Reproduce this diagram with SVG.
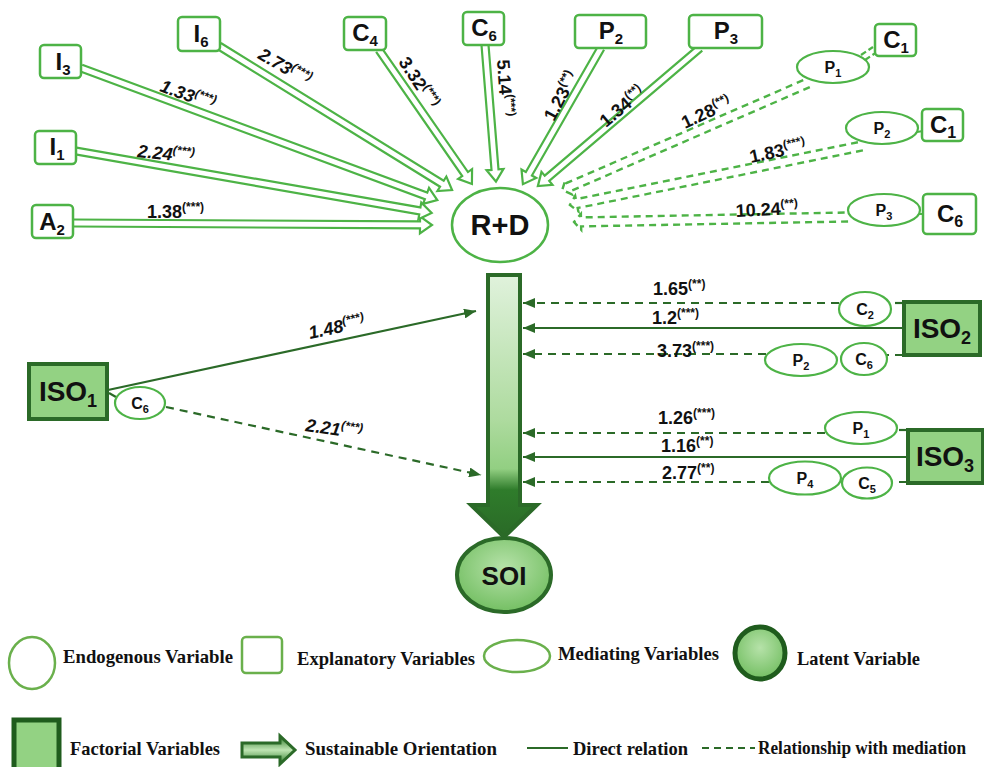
<svg xmlns="http://www.w3.org/2000/svg" width="984" height="767" viewBox="0 0 984 767">
<defs>
<style>
.box{fill:#fff;stroke:#4db346;stroke-width:2.5}
.med{fill:#fff;stroke:#4db346;stroke-width:2.2}
.hol{fill:#fff;stroke:#4db346;stroke-width:2.2;stroke-linejoin:miter}
.hold{fill:#fff;stroke:#4db346;stroke-width:2.4;stroke-dasharray:7 5}
.lbl{font-family:"Liberation Sans",Arial,sans-serif;font-weight:bold;fill:#111}
.bt{font-family:"Liberation Sans",Arial,sans-serif;font-weight:bold;fill:#111;font-size:24px;text-anchor:middle}
.mt{font-family:"Liberation Sans",Arial,sans-serif;font-weight:bold;fill:#111;font-size:16px;text-anchor:middle}
.num{font-size:18px}
.sup{font-size:12px}
.it{font-style:italic}
.iso{fill:#93d283;stroke:#2b6a28;stroke-width:4}
.dir{stroke:#2b6a28;stroke-width:2.2;fill:none}
.dash{stroke:#2b6a28;stroke-width:2.2;fill:none;stroke-dasharray:8 6}
.leg{font-family:"Liberation Serif","Times New Roman",serif;font-weight:bold;fill:#111;font-size:19px}
.legs{fill:#fff;stroke:#6ab04c;stroke-width:2.5}
</style>
<marker id="ah" viewBox="0 0 12 10" refX="12" refY="5" markerWidth="12" markerHeight="10" markerUnits="userSpaceOnUse" orient="auto">
<path d="M0,0 L12,5 L0,10 Z" fill="#2b6a28"/>
</marker>
<linearGradient id="bigGrad" x1="0" y1="0" x2="0" y2="1">
<stop offset="0" stop-color="#e0f2dc"/>
<stop offset="0.55" stop-color="#aedb9f"/>
<stop offset="0.74" stop-color="#92cf82"/>
<stop offset="0.82" stop-color="#2f7c2b"/>
<stop offset="1" stop-color="#2a6a27"/>
</linearGradient>
<radialGradient id="soiGrad" cx="0.5" cy="0.4" r="0.6">
<stop offset="0" stop-color="#b6e2a9"/>
<stop offset="1" stop-color="#74bf63"/>
</radialGradient>
<linearGradient id="legArr" x1="0" y1="0" x2="0" y2="1">
<stop offset="0" stop-color="#2f7c2b"/>
<stop offset="0.5" stop-color="#bfe5b3"/>
<stop offset="1" stop-color="#2f7c2b"/>
</linearGradient>
</defs>
<rect width="984" height="767" fill="#fff"/>

<g id="connectors">
<path class="hol" transform="translate(73,223) rotate(0.32)" d="M0,-3.5 H347 V-8.5 L359,0 L347,8.5 V3.5 H0"/>
<path class="hol" transform="translate(76,151) rotate(9.88)" d="M0,-3.5 H349 V-8.5 L361,0 L349,8.5 V3.5 H0"/>
<path class="hol" transform="translate(81,68) rotate(20.34)" d="M0,-3.5 H368 V-8.5 L380,0 L368,8.5 V3.5 H0"/>
<path class="hol" transform="translate(219,46) rotate(31.72)" d="M0,-3.5 H262 V-8.5 L274,0 L262,8.5 V3.5 H0"/>
<path class="hol" transform="translate(379,50) rotate(55.24)" d="M0,-3.5 H151 V-8.5 L163,0 L151,8.5 V3.5 H0"/>
<path class="hol" transform="translate(485,45) rotate(85.41)" d="M0,-3.5 H125 V-8.5 L137,0 L125,8.5 V3.5 H0"/>
<path class="hol" transform="translate(601,48) rotate(119.83)" d="M0,-3.5 H145 V-8.5 L157,0 L145,8.5 V3.5 H0"/>
<path class="hol" transform="translate(700,48) rotate(139.58)" d="M0,-3.5 H201 V-8.5 L213,0 L201,8.5 V3.5 H0"/>
<path class="hold" transform="translate(808,83) rotate(156.5)" d="M0,-4.5 H261 V-8 L268,0 L261,8 V4.5 H0"/>
<path class="hold" transform="translate(862,146) rotate(168.58)" d="M0,-4.5 H291 V-8 L298,0 L291,8 V4.5 H0"/>
<path class="hold" transform="translate(848,217) rotate(178.95)" d="M0,-4.5 H267 V-8 L274,0 L267,8 V4.5 H0"/>
<line x1="861" y1="55" x2="873" y2="47" stroke="#4db346" stroke-width="2.2" stroke-dasharray="6 3"/>
<line x1="865" y1="60" x2="877" y2="52" stroke="#4db346" stroke-width="2.2" stroke-dasharray="6 3"/>
<line x1="917" y1="132" x2="923" y2="131" stroke="#4db346" stroke-width="2"/>
<line x1="919" y1="214" x2="924" y2="214" stroke="#4db346" stroke-width="2"/>

<line class="dir" x1="108" y1="390" x2="476" y2="311" marker-end="url(#ah)"/>
<line class="dash" x1="166" y1="407" x2="481" y2="475" marker-end="url(#ah)"/>
<line class="dash" x1="109" y1="393" x2="116" y2="397" stroke-dasharray="4 2"/>

<line class="dash" x1="839" y1="303" x2="523" y2="303" marker-end="url(#ah)"/>
<line class="dash" x1="903" y1="303" x2="891" y2="303" stroke-dasharray="6 4"/>
<line class="dir" x1="904" y1="328" x2="523" y2="328" marker-end="url(#ah)"/>
<line class="dash" x1="766" y1="354" x2="523" y2="354" marker-end="url(#ah)"/>
<line class="dash" x1="903" y1="355" x2="887" y2="355" stroke-dasharray="6 4"/>

<line class="dash" x1="825" y1="433" x2="523" y2="433" marker-end="url(#ah)"/>
<line class="dash" x1="907" y1="430" x2="897" y2="430" stroke-dasharray="5 3"/>
<line class="dir" x1="908" y1="457" x2="523" y2="457" marker-end="url(#ah)"/>
<line class="dash" x1="769" y1="482" x2="523" y2="482" marker-end="url(#ah)"/>
<line class="dash" x1="907" y1="482" x2="892" y2="482" stroke-dasharray="6 4"/>
</g>

<g id="labels">
<text class="lbl num" x="147" y="218">1.38<tspan class="sup" dy="-7">(***)</tspan></text>
<text class="lbl num it" transform="translate(137,157) rotate(6)">2.24<tspan class="sup" dy="-7">(***)</tspan></text>
<text class="lbl num it" transform="translate(159,91) rotate(20)">1.33<tspan class="sup" dy="-7">(***)</tspan></text>
<text class="lbl num it" transform="translate(257,58) rotate(30)">2.73<tspan class="sup" dy="-7">(***)</tspan></text>
<text class="lbl num" transform="translate(398,62) rotate(57)">3.32<tspan class="sup" dy="-7">(***)</tspan></text>
<text class="lbl num" transform="translate(497,60) rotate(86)">5.14<tspan class="sup" dy="-7">(***)</tspan></text>
<text class="lbl num" transform="translate(554,122) rotate(-62)">1.23<tspan class="sup" dy="-7">(**)</tspan></text>
<text class="lbl num" transform="translate(606,128) rotate(-40)">1.34<tspan class="sup" dy="-7">(**)</tspan></text>
<text class="lbl num" transform="translate(685,129) rotate(-25)">1.28<tspan class="sup" dy="-7">(**)</tspan></text>
<text class="lbl num" transform="translate(751,163) rotate(-12)">1.83<tspan class="sup" dy="-7">(***)</tspan></text>
<text class="lbl num" transform="translate(736,217) rotate(-3)">10.24<tspan class="sup" dy="-7">(**)</tspan></text>
<text class="lbl num it" transform="translate(310,339) rotate(-12)">1.48<tspan class="sup" dy="-7">(***)</tspan></text>
<text class="lbl num it" transform="translate(305,431) rotate(8)">2.21<tspan class="sup" dy="-7">(***)</tspan></text>
<text class="lbl num" x="653" y="295">1.65<tspan class="sup" dy="-7">(**)</tspan></text>
<text class="lbl num" x="652" y="324">1.2<tspan class="sup" dy="-7">(***)</tspan></text>
<text class="lbl num" x="657" y="357">3.73<tspan class="sup" dy="-7">(***)</tspan></text>
<text class="lbl num" x="658" y="424">1.26<tspan class="sup" dy="-7">(***)</tspan></text>
<text class="lbl num" x="661" y="452">1.16<tspan class="sup" dy="-7">(**)</tspan></text>
<text class="lbl num" x="662" y="479">2.77<tspan class="sup" dy="-7">(**)</tspan></text>
</g>

<g id="node-I3"><rect class="box" x="40" y="45" width="41" height="33" rx="4"/><text class="bt" x="63" y="70">I<tspan font-size="15" dy="5">3</tspan></text></g>
<g id="node-I6"><rect class="box" x="178" y="17" width="42" height="34" rx="4"/><text class="bt" x="201" y="42">I<tspan font-size="15" dy="5">6</tspan></text></g>
<g id="node-I1"><rect class="box" x="35" y="131" width="41" height="33" rx="4"/><text class="bt" x="57" y="155">I<tspan font-size="15" dy="5">1</tspan></text></g>
<g id="node-A2"><rect class="box" x="32" y="205" width="41" height="33" rx="4"/><text class="bt" x="52" y="230">A<tspan font-size="15" dy="5">2</tspan></text></g>
<g id="node-C4"><rect class="box" x="344" y="17" width="42" height="33" rx="4"/><text class="bt" x="365" y="41">C<tspan font-size="15" dy="5">4</tspan></text></g>
<g id="node-C6top"><rect class="box" x="463" y="12" width="41" height="33" rx="4"/><text class="bt" x="484" y="36">C<tspan font-size="15" dy="5">6</tspan></text></g>
<g id="node-P2box"><rect class="box" x="575" y="15" width="71" height="33" rx="4"/><text class="bt" x="611" y="39">P<tspan font-size="15" dy="5">2</tspan></text></g>
<g id="node-P3box"><rect class="box" x="689" y="15" width="73" height="33" rx="4"/><text class="bt" x="726" y="39">P<tspan font-size="15" dy="5">3</tspan></text></g>
<g id="node-C1a"><rect class="box" x="875" y="24" width="41" height="32" rx="4"/><text class="bt" x="896" y="48">C<tspan font-size="15" dy="5">1</tspan></text></g>
<g id="node-C1b"><rect class="box" x="922" y="109" width="41" height="32" rx="4"/><text class="bt" x="943" y="133" font-size="26">C<tspan font-size="16" dy="5">1</tspan></text></g>
<g id="node-C6b"><rect class="box" x="923" y="194" width="53" height="40" rx="4"/><text class="bt" x="950" y="222" font-size="26">C<tspan font-size="16" dy="5">6</tspan></text></g>

<g id="node-P1m"><ellipse class="med" cx="833" cy="67" rx="36" ry="16"/><text class="mt" x="833" y="73">P<tspan font-size="11" dy="4">1</tspan></text></g>
<g id="node-P2m"><ellipse class="med" cx="882" cy="128" rx="36" ry="16"/><text class="mt" x="882" y="134">P<tspan font-size="11" dy="4">2</tspan></text></g>
<g id="node-P3m"><ellipse class="med" cx="884" cy="210" rx="36" ry="16"/><text class="mt" x="884" y="216">P<tspan font-size="11" dy="4">3</tspan></text></g>

<g id="node-RD"><ellipse cx="500" cy="225" rx="48" ry="37" fill="#fff" stroke="#4db346" stroke-width="2.5"/><text class="lbl" x="500" y="235" font-size="29" text-anchor="middle">R+D</text></g>

<g id="node-bigarrow"><path d="M488,275 H520 V505 H537 L504,537 L471,505 H488 Z" fill="url(#bigGrad)" stroke="#2b6a28" stroke-width="4" stroke-linejoin="miter"/></g>

<g id="node-SOI"><ellipse cx="504" cy="575" rx="47" ry="37" fill="url(#soiGrad)" stroke="#2b6a28" stroke-width="4"/><text class="lbl" x="504" y="585" font-size="26" text-anchor="middle">SOI</text></g>

<g id="node-ISO1"><rect class="iso" x="29" y="364" width="78" height="55"/><text class="lbl" x="68" y="401" font-size="28" text-anchor="middle">ISO<tspan font-size="18" dy="6">1</tspan></text></g>
<g id="node-C6m"><ellipse class="med" cx="140" cy="403" rx="25" ry="16"/><text class="mt" x="140" y="409">C<tspan font-size="11" dy="4">6</tspan></text></g>

<g id="node-ISO2"><rect class="iso" x="904" y="302" width="76" height="53"/><text class="lbl" x="942" y="338" font-size="28" text-anchor="middle">ISO<tspan font-size="18" dy="6">2</tspan></text></g>
<g id="node-C2m"><ellipse class="med" cx="865" cy="309" rx="26" ry="17"/><text class="mt" x="865" y="315">C<tspan font-size="11" dy="4">2</tspan></text></g>
<g id="node-P2r"><ellipse class="med" cx="801" cy="360" rx="36" ry="16"/><text class="mt" x="801" y="366">P<tspan font-size="11" dy="4">2</tspan></text></g>
<g id="node-C6r"><ellipse class="med" cx="864" cy="359" rx="23" ry="16"/><text class="mt" x="864" y="365">C<tspan font-size="11" dy="4">6</tspan></text></g>

<g id="node-ISO3"><rect class="iso" x="908" y="430" width="75" height="53"/><text class="lbl" x="945" y="466" font-size="28" text-anchor="middle">ISO<tspan font-size="18" dy="6">3</tspan></text></g>
<g id="node-P1r"><ellipse class="med" cx="861" cy="428" rx="36" ry="16"/><text class="mt" x="861" y="434">P<tspan font-size="11" dy="4">1</tspan></text></g>
<g id="node-P4r"><ellipse class="med" cx="805" cy="478" rx="36" ry="16.5"/><text class="mt" x="805" y="484">P<tspan font-size="11" dy="4">4</tspan></text></g>
<g id="node-C5r"><ellipse class="med" cx="867" cy="483" rx="25" ry="15.5"/><text class="mt" x="867" y="489">C<tspan font-size="11" dy="4">5</tspan></text></g>

<g id="legend">
<ellipse class="legs" cx="32" cy="663" rx="23" ry="26"/>
<text class="leg" x="63" y="663" textLength="170" lengthAdjust="spacingAndGlyphs">Endogenous Variable</text>
<rect class="legs" x="242" y="637" width="40" height="36" rx="4"/>
<text class="leg" x="297" y="665" textLength="178" lengthAdjust="spacingAndGlyphs">Explanatory Variables</text>
<ellipse class="legs" cx="517" cy="656" rx="33" ry="16"/>
<text class="leg" x="558" y="660" textLength="161" lengthAdjust="spacingAndGlyphs">Mediating Variables</text>
<ellipse cx="760" cy="653" rx="25" ry="26" fill="url(#soiGrad)" stroke="#1f5c1d" stroke-width="5"/>
<text class="leg" x="797" y="665" textLength="123" lengthAdjust="spacingAndGlyphs">Latent Variable</text>
<rect x="14" y="720" width="45" height="52" fill="#93d283" stroke="#1f5c1d" stroke-width="5"/>
<text class="leg" x="70" y="755" textLength="150" lengthAdjust="spacingAndGlyphs">Factorial Variables</text>
<path d="M242,743 H280 V736 L295,750 L280,764 V757 H242 Z" fill="url(#legArr)" stroke="#2b6a28" stroke-width="3"/>
<text class="leg" x="305" y="755" textLength="192" lengthAdjust="spacingAndGlyphs">Sustainable Orientation</text>
<line x1="527" y1="748" x2="568" y2="748" stroke="#2b6a28" stroke-width="2.2"/>
<text class="leg" x="573" y="755" textLength="115" lengthAdjust="spacingAndGlyphs">Direct relation</text>
<line x1="702" y1="748" x2="755" y2="748" stroke="#2b6a28" stroke-width="2.2" stroke-dasharray="7 5"/>
<text class="leg" x="758" y="754" font-size="17" textLength="208" lengthAdjust="spacingAndGlyphs">Relationship with mediation</text>
</g>
</svg>
